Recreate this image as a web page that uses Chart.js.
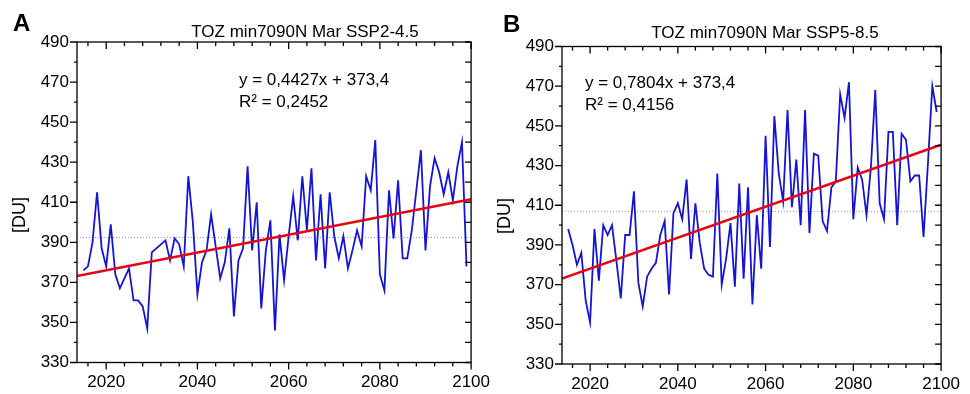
<!DOCTYPE html>
<html>
<head>
<meta charset="utf-8">
<script src="https://cdn.jsdelivr.net/npm/chart.js@4.4.0/dist/chart.umd.min.js"></script>
<style>
  html, body { margin: 0; padding: 0; background: #fff; }
  body { width: 970px; height: 394px; position: relative; overflow: hidden;
         font-family: "Liberation Sans", Arial, sans-serif; color: #000; }
  canvas { position: absolute; top: 0; }
  .abs { position: absolute; white-space: nowrap; line-height: 1; }
  .panel { font-size: 24px; font-weight: bold; }
  .title { font-size: 17px; width: 300px; text-align: center; }
  .eq { font-size: 17px; }
  .unit { font-size: 18px; transform: translate(-50%, -50%) rotate(-90deg); }
</style>
</head>
<body>
<canvas id="chartA" width="500" height="394" style="left:0"></canvas>
<canvas id="chartB" width="490" height="394" style="left:480px"></canvas>

<div class="abs panel" style="left:13px; top:11px">A</div>
<div class="abs title" style="left:155px; top:23px">TOZ min7090N Mar SSP2-4.5</div>
<div class="abs eq" style="left:239px; top:71px">y = 0,4427x + 373,4</div>
<div class="abs eq" style="left:239px; top:93px">R² = 0,2452</div>
<div class="abs unit" style="left:19px; top:215px">[DU]</div>

<div class="abs panel" style="left:503px; top:12px">B</div>
<div class="abs title" style="left:615px; top:24px">TOZ min7090N Mar SSP5-8.5</div>
<div class="abs eq" style="left:585px; top:74px">y = 0,7804x + 373,4</div>
<div class="abs eq" style="left:585px; top:96px">R² = 0,4156</div>
<div class="abs unit" style="left:504px; top:216px">[DU]</div>

<script>
// yearly March minimum TOZ, 70-90N, 2015..2099
const years = Array.from({ length: 85 }, (_, i) => 2015 + i);

const tozSSP245 = [
  376, 378, 390, 415, 387, 378, 399, 374, 367, 372,
  377, 361, 361, 358, 347, 385, 387, 389, 391, 381,
  392, 389, 378, 423, 400, 364, 380, 386, 404, 388,
  372, 380, 397, 353, 381, 387, 428, 386, 410, 357,
  386, 401, 346, 394, 371, 393, 413, 391, 423, 396,
  427, 381, 414, 377, 415, 393, 382, 393, 377, 386,
  396, 388, 423, 416, 441, 374, 366, 416, 392, 421,
  382, 382, 396, 416, 436, 386, 418, 432, 425, 414,
  425, 411, 428, 440, 378,
];

const tozSSP585 = [
  398, 390, 380, 386, 362, 351, 398, 372, 400, 395,
  400, 382, 363, 395, 395, 417, 371, 359, 374, 378,
  381, 395, 402, 365, 406, 411, 403, 423, 383, 411,
  391, 378, 375, 374, 426, 370, 383, 401, 369, 421,
  373, 419, 360, 405, 378, 445, 389, 455, 426, 412,
  458, 409, 433, 400, 458, 396, 436, 435, 402, 397,
  419, 422, 466, 454, 472, 403, 429, 423, 405, 429,
  468, 411, 403, 447, 447, 400, 446, 443, 422, 425,
  425, 394, 431, 470, 457,
];

// trend line ends and mean level
const trendYears  = [2013.6, 2100];
const trendSSP245 = [373.2, 411.5];
const trendSSP585 = [373.1, 440.5];
const meanSSP245  = [392.4, 392.4];
const meanSSP585  = [406.9, 406.9];

const xTicks = [2020, 2040, 2060, 2080, 2100];
const yTicks = [330, 350, 370, 390, 410, 430, 450, 470, 490];

const FONT = '"Liberation Sans", Arial, sans-serif';

// box frame with Origin-style tick marks
const framePlugin = {
  id: 'frame',
  afterDatasetsDraw(chart) {
    const { ctx, chartArea: a, scales: { x, y } } = chart;
    ctx.save();
    ctx.strokeStyle = '#000';
    ctx.lineWidth = 1.3;
    ctx.strokeRect(a.left, a.top, a.right - a.left, a.bottom - a.top);
    ctx.beginPath();
    for (let v = 330; v <= 490; v += 10) {
      const py = y.getPixelForValue(v);
      const major = yTicks.includes(v);
      ctx.moveTo(a.left - (major ? 7 : 3), py);
      ctx.lineTo(a.left, py);
      ctx.moveTo(a.right, py);
      ctx.lineTo(a.right - 6, py);
    }
    for (let v = 2016; v <= 2100; v += 4) {
      const px = x.getPixelForValue(v);
      const major = xTicks.includes(v);
      ctx.moveTo(px, a.bottom);
      ctx.lineTo(px, a.bottom + (major ? 7 : 4));
      ctx.moveTo(px, a.top);
      ctx.lineTo(px, a.top + (major ? 7 : 4));
    }
    ctx.stroke();
    ctx.restore();
  },
};

function toPoints(xs, ys) {
  return xs.map((v, i) => ({ x: v, y: ys[i] }));
}

function buildPanel(canvasId, values, trend, mean, box) {
  const ctx = document.getElementById(canvasId).getContext('2d');
  return new Chart(ctx, {
    type: 'line',
    data: {
      datasets: [
        {
          label: 'Trend',
          data: toPoints(trendYears, trend),
          borderColor: '#e30613',
          borderWidth: 2.5,
          pointRadius: 0,
        },
        {
          label: 'TOZ',
          data: toPoints(years, values),
          borderColor: '#1414d2',
          borderWidth: 1.8,
          pointRadius: 0,
          tension: 0,
        },
        {
          label: 'Mean',
          data: toPoints(trendYears, mean),
          borderColor: '#9a9a9a',
          borderWidth: 1,
          borderDash: [1, 2],
          pointRadius: 0,
        },
      ],
    },
    options: {
      responsive: false,
      animation: false,
      devicePixelRatio: 1,
      layout: { padding: { left: 0, top: box.top, right: box.right, bottom: 0 } },
      plugins: {
        legend: { display: false },
        tooltip: { enabled: false },
      },
      scales: {
        x: {
          type: 'linear',
          min: 2013.6,
          max: 2100,
          grid: { display: false, drawTicks: false },
          border: { display: false },
          ticks: {
            padding: 10,
            color: '#000',
            maxRotation: 0,
            font: { family: FONT, size: 17 },
            callback: v => String(v),
          },
          afterBuildTicks: s => { s.ticks = xTicks.map(v => ({ value: v })); },
          afterFit: s => { s.height = box.xHeight; },
        },
        y: {
          min: 330,
          max: 490,
          grid: { display: false, drawTicks: false },
          border: { display: false },
          ticks: {
            padding: 8,
            color: '#000',
            font: { family: FONT, size: 17 },
            callback: v => String(v),
          },
          afterBuildTicks: s => { s.ticks = yTicks.map(v => ({ value: v })); },
          afterFit: s => { s.width = box.yWidth; },
        },
      },
    },
    plugins: [framePlugin],
  });
}

buildPanel('chartA', tozSSP245, trendSSP245, meanSSP245,
  { top: 42, right: 27.5, xHeight: 31.5, yWidth: 77 });
buildPanel('chartB', tozSSP585, trendSSP585, meanSSP585,
  { top: 46.5, right: 22, xHeight: 30, yWidth: 82 });
</script>
</body>
</html>
